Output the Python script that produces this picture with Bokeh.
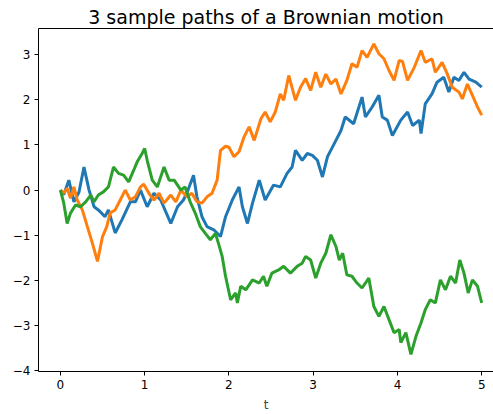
from bokeh.plotting import figure
from bokeh.models import Range1d, LinearAxis, FixedTicker
from bokeh.embed import file_html
from bokeh.resources import INLINE

title_text = "3 sample paths of a Brownian motion"
x_label = "t"
x_ticks = [0, 1, 2, 3, 4, 5]
y_ticks = [-4, -3, -2, -1, 0, 1, 2, 3]

blue_t = [0.00, 0.04, 0.10, 0.16, 0.22, 0.28, 0.34, 0.40, 0.45, 0.53, 0.57, 0.65, 0.73, 0.83, 0.89, 0.95,
          1.03, 1.11, 1.19, 1.31, 1.39, 1.46, 1.50, 1.58, 1.62, 1.68, 1.74, 1.82, 1.90, 1.96, 2.04, 2.12,
          2.16, 2.22, 2.28, 2.36, 2.43, 2.53, 2.61, 2.69, 2.75, 2.79, 2.87, 2.93, 2.99, 3.05, 3.11, 3.17,
          3.25, 3.33, 3.38, 3.48, 3.58, 3.62, 3.70, 3.78, 3.82, 3.88, 3.94, 4.04, 4.12, 4.18, 4.26, 4.28,
          4.33, 4.41, 4.47, 4.55, 4.61, 4.67, 4.73, 4.79, 4.85, 4.93, 5.00]
blue_y = [0.00, -0.10, 0.22, -0.26, -0.05, 0.51, 0.00, -0.37, -0.44, -0.59, -0.44, -0.95, -0.66, -0.26, -0.26, 0.00,
          -0.37, -0.07, -0.22, -0.74, -0.37, -0.22, -0.07, 0.33, -0.15, -0.59, -0.81, -0.88, -1.03, -0.59, -0.22, 0.07,
          -0.37, -0.74, -0.29, 0.22, -0.22, 0.11, 0.07, 0.37, 0.51, 0.88, 0.66, 0.81, 0.77, 0.66, 0.29, 0.74,
          1.03, 1.32, 1.62, 1.47, 2.06, 1.62, 1.84, 2.10, 1.62, 1.55, 1.21, 1.55, 1.73, 1.43, 1.55, 1.25,
          1.91, 2.13, 2.39, 2.50, 2.17, 2.50, 2.43, 2.61, 2.46, 2.39, 2.28]

orange_t = [0.00, 0.04, 0.08, 0.12, 0.16, 0.20, 0.26, 0.32, 0.38, 0.44, 0.50, 0.55, 0.59, 0.65, 0.71, 0.77,
            0.83, 0.89, 0.95, 0.99, 1.05, 1.11, 1.17, 1.23, 1.31, 1.37, 1.43, 1.50, 1.56, 1.62, 1.68, 1.74,
            1.80, 1.86, 1.90, 1.96, 2.00, 2.06, 2.12, 2.18, 2.24, 2.30, 2.38, 2.43, 2.49, 2.55, 2.61, 2.65,
            2.71, 2.79, 2.85, 2.91, 2.97, 3.03, 3.09, 3.15, 3.21, 3.27, 3.33, 3.40, 3.46, 3.52, 3.58, 3.64,
            3.72, 3.78, 3.84, 3.90, 3.96, 4.02, 4.06, 4.12, 4.20, 4.28, 4.33, 4.41, 4.45, 4.53, 4.59, 4.65,
            4.73, 4.77, 4.83, 4.89, 4.95, 5.00]
orange_y = [0.00, -0.07, 0.04, -0.18, 0.07, -0.22, -0.44, -0.81, -1.18, -1.58, -1.03, -0.81, -0.51, -0.44, -0.22, 0.00,
            -0.22, -0.15, 0.07, 0.13, -0.07, -0.22, -0.07, -0.29, -0.11, -0.26, 0.00, -0.15, -0.07, -0.26, -0.29, -0.15,
            -0.07, 0.22, 0.88, 0.97, 0.95, 0.74, 0.85, 1.18, 1.40, 1.10, 1.58, 1.73, 1.51, 1.73, 2.13, 1.99,
            2.54, 1.99, 2.28, 2.47, 2.21, 2.61, 2.28, 2.57, 2.35, 2.46, 2.13, 2.43, 2.80, 2.72, 3.09, 2.94,
            3.24, 3.02, 2.91, 2.65, 2.43, 2.87, 2.85, 2.43, 2.72, 3.09, 2.83, 2.91, 2.61, 2.83, 2.58, 2.28,
            2.17, 2.02, 2.35, 2.10, 1.84, 1.66]

green_t = [0.00, 0.04, 0.08, 0.12, 0.18, 0.24, 0.30, 0.36, 0.40, 0.45, 0.51, 0.57, 0.63, 0.69, 0.75, 0.81,
           0.87, 0.91, 0.97, 1.00, 1.03, 1.09, 1.15, 1.23, 1.29, 1.35, 1.43, 1.48, 1.54, 1.60, 1.66, 1.72,
           1.78, 1.84, 1.88, 1.92, 1.96, 2.02, 2.08, 2.10, 2.14, 2.20, 2.28, 2.36, 2.41, 2.45, 2.51, 2.59,
           2.65, 2.73, 2.81, 2.87, 2.91, 2.97, 3.03, 3.09, 3.15, 3.21, 3.27, 3.31, 3.35, 3.40, 3.46, 3.52,
           3.58, 3.66, 3.72, 3.78, 3.84, 3.90, 3.96, 4.02, 4.04, 4.10, 4.16, 4.22, 4.28, 4.33, 4.39, 4.45,
           4.51, 4.57, 4.63, 4.69, 4.74, 4.79, 4.84, 4.89, 4.95, 5.00]
green_y = [0.00, -0.29, -0.74, -0.51, -0.33, -0.37, -0.26, -0.11, -0.26, -0.11, -0.04, 0.07, 0.51, 0.37, 0.33, 0.18,
           0.44, 0.62, 0.81, 0.92, 0.66, 0.22, 0.07, 0.51, 0.22, 0.22, 0.00, 0.07, -0.26, -0.51, -0.81, -0.96,
           -1.10, -0.96, -1.21, -1.47, -1.91, -2.43, -2.28, -2.50, -2.13, -2.21, -1.99, -2.06, -1.91, -2.13, -1.84, -1.77,
           -1.69, -1.84, -1.69, -1.62, -1.47, -1.55, -1.95, -1.62, -1.40, -0.99, -1.25, -1.55, -1.40, -1.88, -1.91, -2.06,
           -2.17, -1.95, -2.58, -2.80, -2.58, -2.87, -3.16, -3.09, -3.38, -3.16, -3.64, -3.24, -2.94, -2.65, -2.43, -2.50,
           -1.99, -2.21, -1.91, -2.06, -1.55, -1.84, -2.28, -1.99, -2.13, -2.50]

series = [(blue_t, blue_y, "#1f77b4"), (orange_t, orange_y, "#ff7f0e"), (green_t, green_y, "#2ca02c")]

p = figure(width=493, height=414, output_backend="svg", toolbar_location=None,
           x_range=Range1d(-0.26, 5.14), y_range=Range1d(-4.02, 3.58),
           min_border_left=38, min_border_right=0, min_border_top=28, min_border_bottom=42)
p.title.text = title_text
p.title.align = "center"
p.title.text_font = "DejaVu Sans"
p.title.text_font_size = "19px"
p.title.text_font_style = "normal"
p.title.text_color = "black"
p.title.standoff = 2
p.title.offset = 0
p.outline_line_color = None
p.xgrid.visible = False
p.ygrid.visible = False
p.background_fill_color = "white"
p.border_fill_color = "white"

for ts, ys, c in series:
    p.line(ts, ys, line_color=c, line_width=3)

def style_axis(ax):
    ax.axis_line_color = "black"
    ax.axis_line_width = 1
    ax.major_tick_line_color = "black"
    ax.major_tick_out = 4
    ax.major_tick_in = 0
    ax.minor_tick_line_color = None
    ax.major_label_text_font = "DejaVu Sans"
    ax.major_label_text_font_size = "12px"
    ax.major_label_text_color = "black"
    ax.major_label_standoff = 4

xa = p.xaxis[0]
style_axis(xa)
xa.ticker = FixedTicker(ticks=x_ticks)
xa.axis_label = x_label
xa.axis_label_text_font = "DejaVu Sans"
xa.axis_label_text_font_size = "12px"
xa.axis_label_text_font_style = "normal"
xa.axis_label_standoff = 6

ya = p.yaxis[0]
style_axis(ya)
ya.ticker = FixedTicker(ticks=y_ticks)
ya.major_label_overrides = {v: (("\u2212" + str(abs(v))) if v < 0 else str(v)) for v in y_ticks}

top = LinearAxis(ticker=FixedTicker(ticks=[]), major_label_text_font_size="0px",
                 axis_line_color="black", axis_line_width=1, minor_tick_line_color=None,
                 major_tick_line_color=None)
p.add_layout(top, "above")

open("out.html", "w").write(file_html(p, INLINE))
